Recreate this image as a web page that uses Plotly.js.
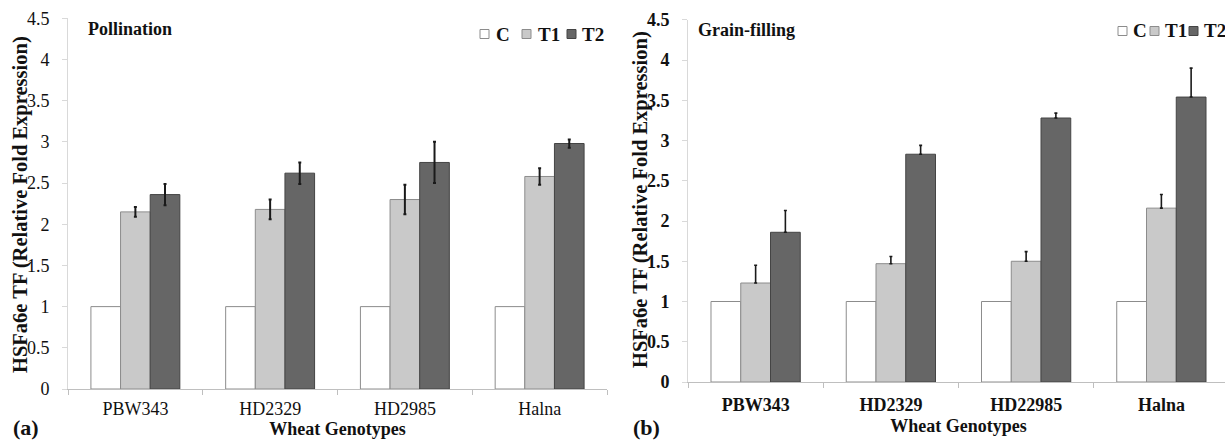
<!DOCTYPE html>
<html>
<head>
<meta charset="utf-8">
<script src="https://cdn.plot.ly/plotly-3.0.1.min.js"></script>
<style>
  html, body { margin: 0; padding: 0; background: #fff; overflow: hidden; }
  #chart { width: 1240px; height: 440px; }
</style>
</head>
<body>
<div id="chart"></div>
<script>
// ---- Data ----
const genotypesA = ['PBW343', 'HD2329', 'HD2985', 'Halna'];
const genotypesB = ['PBW343', 'HD2329', 'HD22985', 'Halna'];
const seriesNames = ['C', 'T1', 'T2'];

const pollC  = [1, 1, 1, 1];
const pollT1 = [2.15, 2.18, 2.30, 2.58];
const pollT2 = [2.36, 2.62, 2.75, 2.98];
const pollErrT1 = [0.06, 0.12, 0.18, 0.10];
const pollErrT2 = [0.13, 0.13, 0.25, 0.05];

const grainC  = [1, 1, 1, 1];
const grainT1 = [1.23, 1.47, 1.50, 2.16];
const grainT2 = [1.86, 2.83, 3.28, 3.54];
const grainErrT1 = [0.22, 0.09, 0.12, 0.17];
const grainErrT2 = [0.27, 0.11, 0.06, 0.36];

const yTitle = 'HSFa6e TF (Relative Fold Expression)';
const xTitle = 'Wheat Genotypes';

// ---- Styling ----
const W = 1240, H = 440;
const SERIF = 'Liberation Serif, Times New Roman, serif';
const fills = ['#ffffff', '#c9c9c9', '#666666'];
const lines = ['#8c8c8c', '#8c8c8c', '#444444'];
const px = x => x / W;
const py = y => (H - y) / H;

function bar(xs, ys, i, xa, ya, err, plusOnly, thick) {
  const t = {
    type: 'bar', x: xs, y: ys, name: seriesNames[i], xaxis: xa, yaxis: ya,
    showlegend: false,
    marker: { color: fills[i], line: { color: lines[i], width: 1 } },
    hoverinfo: 'x+y'
  };
  if (err) {
    t.error_y = plusOnly
      ? { type: 'data', array: err, arrayminus: err.map(() => 0), symmetric: false, color: '#1a1a1a', thickness: thick, width: 1.5 }
      : { type: 'data', array: err, symmetric: true, color: '#1a1a1a', thickness: thick, width: 1.5 };
  }
  return t;
}

const traces = [
  bar(genotypesA, pollC, 0, 'x', 'y', null),
  bar(genotypesA, pollT1, 1, 'x', 'y', pollErrT1, false, 2),
  bar(genotypesA, pollT2, 2, 'x', 'y', pollErrT2, false, 2),
  bar(genotypesB, grainC, 0, 'x2', 'y2', null),
  bar(genotypesB, grainT1, 1, 'x2', 'y2', grainErrT1, true, 1.6),
  bar(genotypesB, grainT2, 2, 'x2', 'y2', grainErrT2, true, 1.6)
];

function xAxis(domain, bold, anchor, lblOff, titleOff) {
  return {
    domain: domain, anchor: anchor, type: 'category',
    showline: true, linecolor: '#bfbfbf', linewidth: 1,
    ticks: 'outside', tickson: 'boundaries', ticklen: 5, tickcolor: '#bfbfbf',
    showgrid: false, zeroline: false,
    tickfont: { family: SERIF, size: 18, color: '#111', weight: bold ? 'bold' : 'normal' },
    ticklabelstandoff: lblOff,
    title: { text: xTitle, font: { family: SERIF, size: 18, color: '#111', weight: 'bold' }, standoff: titleOff },
    fixedrange: true
  };
}
function yAxis(domain, bold, anchor) {
  return {
    domain: domain, anchor: anchor, range: [0, 4.5], dtick: 0.5, tick0: 0,
    showline: true, linecolor: '#d9d9d9', linewidth: 1,
    ticks: 'outside', ticklen: 5, tickcolor: '#d9d9d9',
    showgrid: false, zeroline: false,
    tickfont: { family: SERIF, size: 18, color: '#111', weight: bold ? 'bold' : 'normal' },
    ticklabelstandoff: 9,
    fixedrange: true
  };
}

const annotations = [];
const shapes = [];
function txt(x, y, text, size, anchor, angle) {
  annotations.push({ xref: 'paper', yref: 'paper', x: px(x), y: py(y), text: text, showarrow: false,
    xanchor: anchor || 'left', yanchor: 'middle', textangle: angle || 0,
    font: { family: SERIF, size: size, color: '#111', weight: 'bold' } });
}
function box(x, y, i) {
  shapes.push({ type: 'rect', xref: 'paper', yref: 'paper', x0: px(x), x1: px(x + 9), y0: py(y + 4.5), y1: py(y - 4.5),
    fillcolor: fills[i], line: { color: lines[i], width: 1 } });
}

// y-axis titles
txt(20, 205, yTitle, 20.5, 'center', -90);
txt(640, 200, yTitle, 20.5, 'center', -90);
// panel titles
txt(86, 29, 'Pollination', 18);
txt(696, 30, 'Grain-filling', 18);
// panel labels
txt(11, 427, '(a)', 22);
txt(631, 427, '(b)', 22);
// legends
const legA = { y: 34, boxes: [480, 522, 567], texts: [494, 536, 580] };
const legB = { y: 31, boxes: [1118, 1150, 1189], texts: [1131, 1163, 1202] };
[legA, legB].forEach(L => {
  seriesNames.forEach((n, i) => { box(L.boxes[i], L.y, i); txt(L.texts[i], L.y, n, 19); });
});

const layout = {
  width: W, height: H,
  margin: { l: 0, r: 0, t: 0, b: 0 },
  paper_bgcolor: '#fff', plot_bgcolor: '#fff',
  barmode: 'group', bargap: 0.34, bargroupgap: 0,
  showlegend: false,
  xaxis: xAxis([px(68), px(607)], false, 'y', 3, 1),
  yaxis: yAxis([py(389), py(18.3)], false, 'x'),
  xaxis2: xAxis([px(688), px(1229)], true, 'y2', 6, 5),
  yaxis2: yAxis([py(382), py(19.8)], true, 'x2'),
  annotations: annotations,
  shapes: shapes
};

Plotly.newPlot('chart', traces, layout, { displayModeBar: false, staticPlot: true });
</script>
</body>
</html>
